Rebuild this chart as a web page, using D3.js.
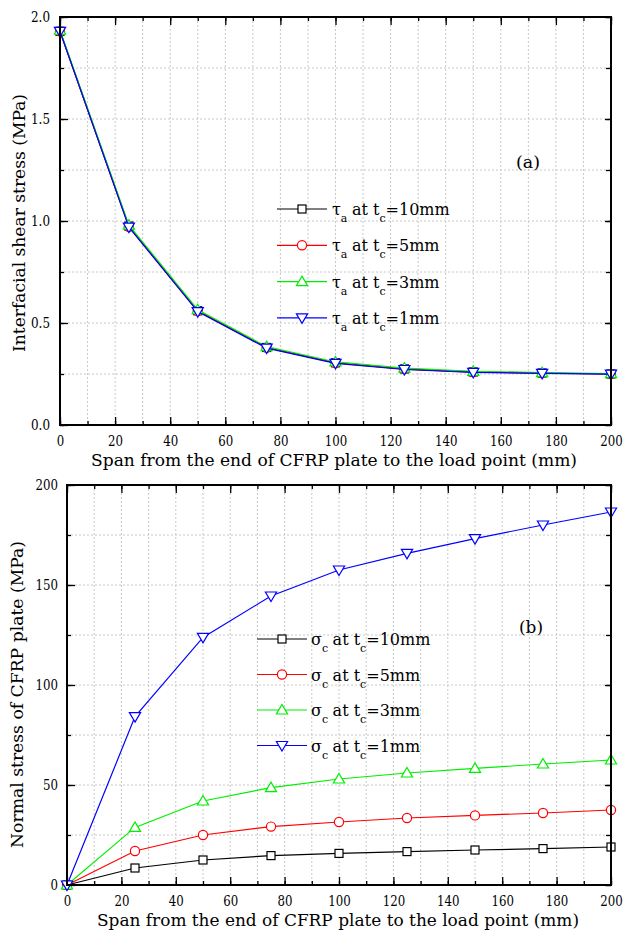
<!DOCTYPE html>
<html><head><meta charset="utf-8">
<script src="https://cdn.jsdelivr.net/npm/d3@7"></script>
<style>body{margin:0;background:#fff}svg{display:block}</style>
</head><body>
<svg id="c" width="625" height="934"></svg>
<script>
const spans = [0,25,50,75,100,125,150,175,200];
const thickness = ["10mm","5mm","3mm","1mm"];
const colors = ["#000000","#ff0000","#00ee00","#0000ff"];
const markerTypes = ["square","circle","triangle","triangleDown"];
// (a) interfacial shear stress (MPa)
const tauA10 = [1.93,0.975,0.56,0.38,0.305,0.275,0.26,0.255,0.25];
const tauA5  = [1.93,0.972,0.558,0.379,0.304,0.274,0.259,0.254,0.25];
const tauA3  = [1.935,0.98,0.565,0.384,0.309,0.279,0.263,0.257,0.252];
const tauA1  = [1.93,0.97,0.556,0.377,0.302,0.272,0.258,0.253,0.249];
// (b) normal stress of CFRP plate (MPa)
const sigC10 = [0,8.5,12.5,14.7,15.8,16.7,17.5,18.2,19];
const sigC5  = [0,17,25,29.2,31.5,33.5,34.8,36,37.5];
const sigC3  = [0,28.8,42,48.7,53,56,58.3,60.5,62.5];
const sigC1  = [0,84.2,123.8,144.5,157.5,165.8,173.2,180,186.5];
const xTicks = [0,20,40,60,80,100,120,140,160,180,200];
const yTicksA = [0.0,0.5,1.0,1.5,2.0];
const yTicksB = [0,50,100,150,200];
const xTitle = "Span from the end of CFRP plate to the load point (mm)";
const F = "DejaVu Serif";
const svg = d3.select("#c");

// approximate Times-like advance widths to condense the wider DejaVu Serif
const tw = s => Array.from(s).reduce((a,c)=>a+(c==="."?4:7.5),0);

function marker(g, type, x, y, color){
  if(type==="square") g.append("rect").attr("x",x-4).attr("y",y-4).attr("width",8).attr("height",8)
      .attr("fill","#fff").attr("stroke",color).attr("stroke-width",1.2);
  else if(type==="circle") g.append("circle").attr("cx",x).attr("cy",y).attr("r",4.6)
      .attr("fill","#fff").attr("stroke",color).attr("stroke-width",1.2);
  else if(type==="triangle") g.append("path").attr("d",`M${x},${y-5.5}L${x+5.6},${y+4}L${x-5.6},${y+4}Z`)
      .attr("fill","#fff").attr("stroke",color).attr("stroke-width",1.2);
  else g.append("path").attr("d",`M${x},${y+5.5}L${x+5.6},${y-4}L${x-5.6},${y-4}Z`)
      .attr("fill","#fff").attr("stroke",color).attr("stroke-width",1.2);
}

function panel(o){
  const x = d3.scaleLinear().domain([0,200]).range([o.left,o.right]);
  const y = d3.scaleLinear().domain(o.ydom).range([o.bottom,o.top]);
  const g = svg.append("g");
  const minorX = d3.range(0,201,10);
  const minorY = d3.range(o.ydom[0],o.ydom[1]+1e-9,o.ystep/2);
  g.append("g").selectAll("line").data(minorX.filter(v=>v>0&&v<200)).join("line")
    .attr("x1",d=>x(d)).attr("x2",d=>x(d)).attr("y1",o.top).attr("y2",o.bottom)
    .attr("stroke","#c8c8c8").attr("stroke-width",1).attr("stroke-dasharray","2,2");
  g.append("g").selectAll("line").data(minorY.filter(v=>v>o.ydom[0]&&v<o.ydom[1]-1e-9)).join("line")
    .attr("y1",d=>y(d)).attr("y2",d=>y(d)).attr("x1",o.left).attr("x2",o.right)
    .attr("stroke","#c8c8c8").attr("stroke-width",1).attr("stroke-dasharray","2,2");
  const styleAxis = a => { a.attr("font-family",F); a.select(".domain").remove();
    a.selectAll("line").attr("stroke","#000").attr("stroke-width",1.3);
    a.selectAll("text").attr("font-size",14.5).attr("font-family",F).attr("fill","#000")
      .each(function(){ const s=this.textContent; if(s) d3.select(this).attr("textLength",tw(s)).attr("lengthAdjust","spacingAndGlyphs"); }); };
  g.append("g").attr("transform",`translate(0,${o.bottom})`).call(d3.axisBottom(x).tickValues(xTicks).tickSize(-8).tickPadding(11)).call(styleAxis);
  g.append("g").attr("transform",`translate(0,${o.bottom})`).call(d3.axisBottom(x).tickValues(minorX).tickSize(-4).tickFormat("")).call(styleAxis);
  g.append("g").attr("transform",`translate(0,${o.top})`).call(d3.axisTop(x).tickValues(xTicks).tickSize(-8).tickFormat("")).call(styleAxis);
  g.append("g").attr("transform",`translate(0,${o.top})`).call(d3.axisTop(x).tickValues(minorX).tickSize(-4).tickFormat("")).call(styleAxis);
  g.append("g").attr("transform",`translate(${o.left},0)`).call(d3.axisLeft(y).tickValues(o.yticks).tickSize(-8).tickPadding(o.ypad).tickFormat(o.yfmt)).call(styleAxis);
  g.append("g").attr("transform",`translate(${o.left},0)`).call(d3.axisLeft(y).tickValues(minorY).tickSize(-4).tickFormat("")).call(styleAxis);
  g.append("g").attr("transform",`translate(${o.right},0)`).call(d3.axisRight(y).tickValues(o.yticks).tickSize(-6).tickFormat("")).call(styleAxis);
  g.append("g").attr("transform",`translate(${o.right},0)`).call(d3.axisRight(y).tickValues(minorY).tickSize(-5).tickFormat("")).call(styleAxis);
  const line = d3.line().x((d,i)=>x(spans[i])).y(d=>y(d));
  o.series.forEach((s,k)=>{
    g.append("path").attr("d",line(s)).attr("fill","none").attr("stroke",colors[k]).attr("stroke-width",1.2);
    const mg = g.append("g");
    s.forEach((v,i)=>marker(mg, markerTypes[k], x(spans[i]), y(v), colors[k]));
  });
  g.append("rect").attr("x",o.left).attr("y",o.top).attr("width",o.right-o.left).attr("height",o.bottom-o.top)
    .attr("fill","none").attr("stroke","#000").attr("stroke-width",2);
  o.series.forEach((s,k)=>{
    const ly = o.legY + k*o.legDy;
    g.append("line").attr("x1",o.legX).attr("x2",o.legX+50).attr("y1",ly).attr("y2",ly).attr("stroke",colors[k]).attr("stroke-width",1.2);
    marker(g, markerTypes[k], o.legX+25, ly, colors[k]);
    const t = g.append("text").attr("x",o.legX+o.legTx).attr("y",ly+6).attr("font-size",16).attr("font-family",F);
    t.append("tspan").text(o.sym);
    t.append("tspan").attr("font-size",11).attr("dy",7).text(o.symSub);
    t.append("tspan").attr("dy",-7).attr("dx",1).text("at t");
    t.append("tspan").attr("font-size",11).attr("dy",7).text("c");
    t.append("tspan").attr("dy",-7).text("=" + thickness[k]);
  });
  g.append("text").attr("x",o.tagX).attr("y",o.tagY).attr("font-size",16).attr("font-family",F).attr("text-anchor","middle")
    .attr("textLength",24).attr("lengthAdjust","spacingAndGlyphs").text(o.tag);
  g.append("text").attr("x",(o.left+o.right)/2 + o.xtOff).attr("y",o.bottom+41).attr("font-size",16.5).attr("font-family",F).attr("text-anchor","middle")
    .attr("textLength",o.xtW).attr("lengthAdjust","spacingAndGlyphs").text(xTitle);
  g.append("text").attr("transform",`translate(${o.ylX},${(o.top+o.bottom)/2 + o.ylOff}) rotate(-90)`).attr("font-size",16.5).attr("font-family",F).attr("text-anchor","middle")
    .attr("textLength",o.ylW).attr("lengthAdjust","spacingAndGlyphs").text(o.ytitle);
}

panel({left:60,right:611,top:17,bottom:425,ydom:[0,2],ystep:0.5,yticks:yTicksA,yfmt:d3.format(".1f"),ypad:10,
  series:[tauA10,tauA5,tauA3,tauA1],sym:"τ",symSub:"a ",legX:277,legY:209,legDy:36.3,legTx:55,
  tag:"(a)",tagX:528,tagY:168,ytitle:"Interfacial shear stress (MPa)",ylX:25,ylOff:2,ylW:258,xtOff:-1.5,xtW:486});
panel({left:67,right:611,top:485,bottom:885,ydom:[0,200],ystep:50,yticks:yTicksB,yfmt:d3.format("d"),ypad:9,
  series:[sigC10,sigC5,sigC3,sigC1],sym:"σ",symSub:"c ",legX:257,legY:639,legDy:35.5,legTx:54,
  tag:"(b)",tagX:531,tagY:633,ytitle:"Normal stress of CFRP plate (MPa)",ylX:23,ylOff:9.5,ylW:307,xtOff:-1,xtW:482});
</script>
</body></html>
